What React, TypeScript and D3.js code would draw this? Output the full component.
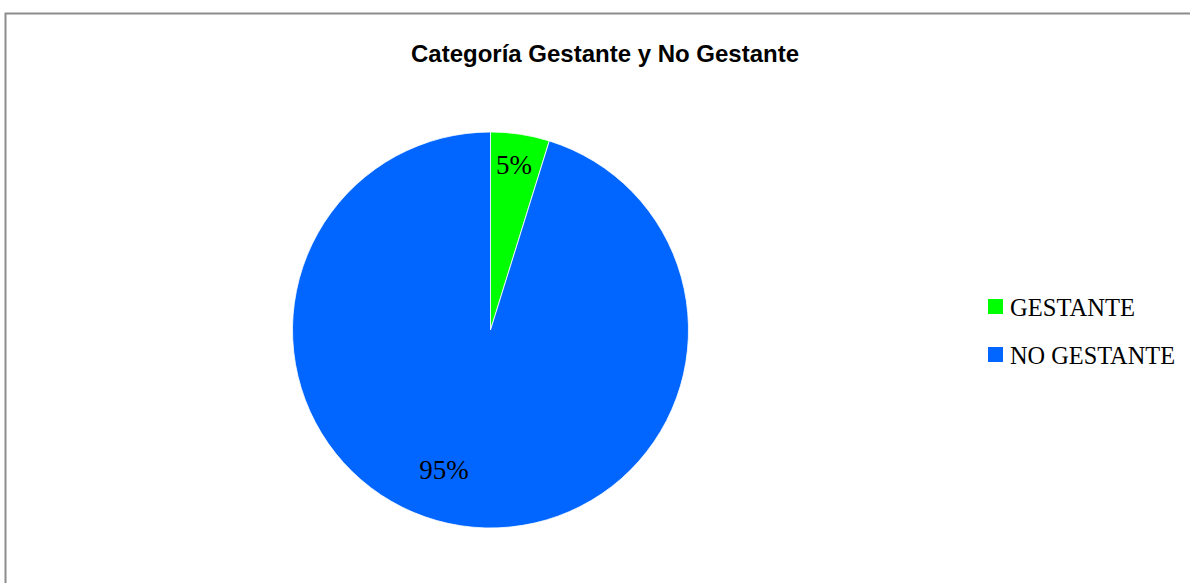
import React from "react";
import * as d3 from "d3";

const categories = ["GESTANTE", "NO GESTANTE"];
const values = [4.8, 95.2];
const labels = values.map((v) => `${Math.round(v)}%`);
const colors = ["#00FF00", "#0066FF"];
const title = "Categoría Gestante y No Gestante";

export default function App() {
  const W = 1190, H = 583;
  const cx = 490.5, cy = 330, r = 198;
  const pie = d3.pie<number>().sort(null).value((d) => d)(values);
  const arc = d3.arc<d3.PieArcDatum<number>>().innerRadius(0).outerRadius(r);
  const labelPos = [
    [514, 168],
    [444, 473],
  ];
  return (
    <svg width={W} height={H} style={{ position: "absolute", left: 0, top: 0 }}>
      <rect x={0} y={0} width={W} height={H} fill="#fff" />
      <rect x={5.5} y={13.5} width={W + 20} height={H + 20} fill="none" stroke="#8c8c8c" strokeWidth={2} />
      <text x={605} y={62} textAnchor="middle" fontFamily="Liberation Sans, Arial" fontWeight="bold" fontSize={24} textLength={388} lengthAdjust="spacingAndGlyphs" fill="#000">{title}</text>
      <g transform={`translate(${cx},${cy})`}>
        {pie.map((p, i) => (
          <path key={i} d={arc(p) || ""} fill={colors[i]} stroke="#fff" strokeWidth={0.8} />
        ))}
      </g>
      {labels.map((l, i) => (
        <text key={i} x={labelPos[i][0]} y={labelPos[i][1]} textAnchor="middle" dominantBaseline="middle" fontFamily="Liberation Serif, serif" fontSize={27} fill="#000">{l}</text>
      ))}
      {categories.map((c, i) => (
        <g key={c} transform={`translate(988,${299 + i * 48})`}>
          <rect x={0} y={0} width={15} height={15} fill={colors[i]} />
          <text x={22} y={17} fontFamily="Liberation Serif, serif" fontSize={26} fill="#000" textLength={i === 0 ? 125 : 165} lengthAdjust="spacingAndGlyphs">{c}</text>
        </g>
      ))}
    </svg>
  );
}
